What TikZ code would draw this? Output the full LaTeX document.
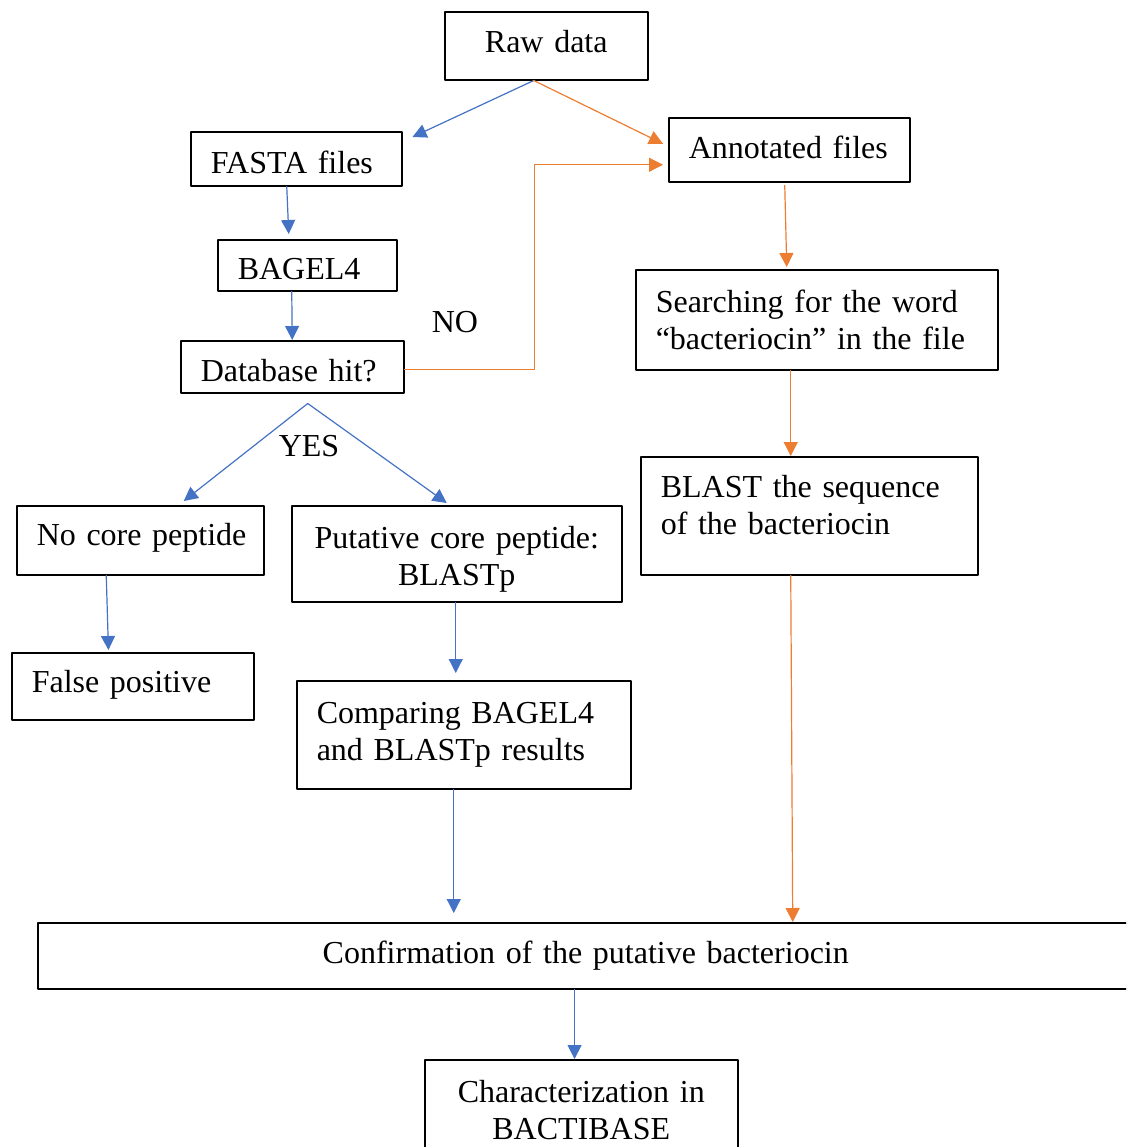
\documentclass[tikz,border=0pt]{standalone}
\usepackage{fontspec}
\setmainfont{Liberation Serif}
\usepackage{tikz}
\usetikzlibrary{arrows.meta}
\usetikzlibrary{positioning}
\definecolor{arrblue}{RGB}{68,114,196}
\definecolor{arrorange}{RGB}{237,125,49}
\newcommand{\boxfont}{\fontsize{16}{18.5}\selectfont\spaceskip=3pt plus 1pt minus 0.5pt\relax}

\begin{document}
\begin{tikzpicture}[line cap=round,line join=round, x=0.5pt,y=-0.5pt,
  box/.style={draw, line width=0.75pt, anchor=north west, inner xsep=10pt, inner ysep=0pt,
    align=left, font=\boxfont},
  lbl/.style={font=\boxfont},
  bluearr/.style={arrblue, line width=0.6pt, -{Triangle[length=7pt, width=7pt]}},
  orangearr/.style={arrorange, line width=0.6pt, -{Triangle[length=7pt, width=7pt]}}]
\useasboundingbox (0,0) rectangle (1126,1147);
\clip (0,0) rectangle (1126,1147);
% boxes
\node[box, text width=81.5pt, minimum height=34pt, align=center, text depth=4pt] (raw) at (444,11) {Raw data};
\node[box, text width=85.5pt, minimum height=27pt, text height=14.6pt] (fasta) at (190,131) {FASTA files};
\node[box, text width=69.5pt, minimum height=25.5pt, text height=14.4pt] (bagel) at (217,239) {BAGEL4};
\node[box, text width=91.5pt, minimum height=26pt, text height=14.5pt] (dbhit) at (180,340) {Database hit?};
\node[box, text width=100.5pt, minimum height=32pt, text depth=2.3pt] (annot) at (668,117) {Annotated files};
\node[box, text width=161pt, minimum height=50pt] (search) at (635,269) {Searching for the word\\``bacteriocin'' in the file};
\node[box, text width=148.5pt, minimum height=59pt, text depth=29.5pt] (blast) at (640,456) {BLAST the sequence\\of the bacteriocin};
\node[box, text width=103.5pt, minimum height=34.5pt, text depth=5.8pt] (nocore) at (16,505) {\mbox{No core peptide}};
\node[box, text width=145pt, minimum height=48pt, align=center, text depth=16pt] (putative) at (291,505) {Putative core peptide:\\BLASTp};
\node[box, text width=101pt, minimum height=33.5pt, text depth=5pt] (falsepos) at (11,652) {False positive};
\node[box, text width=147pt, minimum height=54pt] (compare) at (296,680) {Comparing BAGEL4\\and BLASTp results};
\node[box, text width=528pt, minimum height=33pt, align=center] (confirm) at (37,922) {Confirmation of the putative bacteriocin};
\node[box, text width=136.5pt, minimum height=50pt, align=center] (charact) at (424,1059) {Characterization in\\BACTIBASE};
% labels
\node[lbl] (nolabel) at (455,322) {NO};
\node[lbl] (yeslabel) at (309,446) {YES};
% connectors
\coordinate (rawout) at ([xshift=-6.25pt]raw.south);
\coordinate (yesfork) at ([xshift=7.75pt,yshift=-5pt]dbhit.south);
\coordinate (cmpout) at ([xshift=-5pt]compare.south);
\draw[bluearr] (rawout) -- ([xshift=5pt,yshift=-3pt]fasta.north east);
\draw[orangearr] (rawout) -- ([xshift=-2.5pt,yshift=3pt]annot.west);
\draw[bluearr] ([xshift=-4.75pt]fasta.south) -- ([xshift=-9.25pt,yshift=2.5pt]bagel.north);
\draw[bluearr] ([xshift=-7.75pt]bagel.south) -- (dbhit.north);
\draw[orangearr] ([yshift=-1.5pt]dbhit.east) -- ++(130,0) |- ([xshift=-2.5pt,yshift=-7.5pt]annot.west);
\draw[bluearr] (yesfork) -- ([xshift=21.75pt,yshift=2pt]nocore.north);
\draw[bluearr] (yesfork) -- ([xshift=-5pt,yshift=1pt]putative.north);
\draw[bluearr] ([xshift=-17pt]nocore.south) -- ([xshift=-12.15pt,yshift=1pt]falsepos.north);
\draw[bluearr] ([xshift=-0.5pt]putative.south) -- ([xshift=-4pt,yshift=3.5pt]compare.north);
\draw[bluearr, shorten >=4.5pt] (cmpout) -- (cmpout |- confirm.north);
\draw[orangearr] ([xshift=-2.25pt,yshift=-1.5pt]annot.south) -- ([xshift=-15pt,yshift=1pt]search.north);
\draw[orangearr] ([xshift=-13pt]search.south) -- ([xshift=-9.25pt]blast.north);
\draw[orangearr] ([xshift=-9.25pt]blast.south) -- ([xshift=103.5pt]confirm.north);
\draw[bluearr] ([xshift=-5.6pt]confirm.south) -- ([xshift=-3.35pt]charact.north);
\end{tikzpicture}
\end{document}
